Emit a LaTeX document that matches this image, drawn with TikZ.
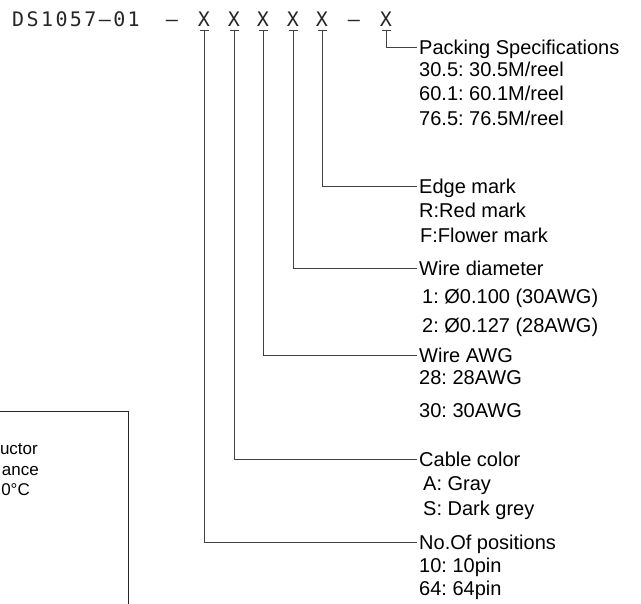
\documentclass[tikz,border=0pt]{standalone}
\usepackage{fontspec}
\newfontfamily\labfont{Liberation Sans}
\newfontfamily\hdrfont{DejaVu Sans Mono}[LetterSpace=12]
\newfontfamily\hdrplain{DejaVu Sans Mono}
\frenchspacing
\begin{document}
\begin{tikzpicture}[x=1pt,y=-1pt,
  conn/.style={draw=black!75, line width=0.9pt},
  lbl/.style={font=\labfont\fontsize{20}{24}\selectfont, anchor=west, inner xsep=2pt, inner ysep=0pt, text height=14.3pt, text depth=0pt},
  hdr/.style={font=\hdrplain\fontsize{20}{24}\selectfont, inner sep=0pt, anchor=base, text=black!85},
  boxtxt/.style={font=\labfont\fontsize{17}{20}\selectfont, anchor=east, inner sep=0pt, text height=12.2pt, text depth=0pt}]
\useasboundingbox (0,0) rectangle (641,604);
\clip (0,0) rectangle (641,604);

% header
\node[hdr, anchor=base west, font=\hdrfont\fontsize{20}{24}\selectfont] (code) at (12,27) {DS1057—01};
\node[hdr] (d1) at (172,27) {—};
\node[hdr] (x1) at (204,27) {X};
\node[hdr] (x2) at (234,27) {X};
\node[hdr] (x3) at (263,27) {X};
\node[hdr] (x4) at (293,27) {X};
\node[hdr] (x5) at (322,27) {X};
\node[hdr] (d2) at (354,27) {—};
\node[hdr] (x6) at (386,27) {X};

% bar points under each X
\foreach \i/\xx in {1/204,2/234,3/263,4/293,5/322,6/386}{
  \coordinate (b\i) at (\xx,30);
  \draw[conn] ([xshift=-4.5pt]b\i) -- ([xshift=4.5pt]b\i);
}

% labels
\node[lbl] (p0) at (417,47) {Packing Specifications};
\node[lbl] (p1) at (417,69) {30.5: 30.5M/reel};
\node[lbl] (p2) at (417,93) {60.1: 60.1M/reel};
\node[lbl] (p3) at (417,118) {76.5: 76.5M/reel};

\node[lbl] (e0) at (417,186) {Edge mark};
\node[lbl] (e1) at (417,210) {R:Red mark};
\node[lbl] (e2) at (418,235) {F:Flower mark};

\node[lbl] (w0) at (417,268) {Wire diameter};
\node[lbl] (w1) at (420,296) {1: Ø0.100 (30AWG)};
\node[lbl] (w2) at (420,325) {2: Ø0.127 (28AWG)};

\node[lbl] (a0) at (417,355) {Wire AWG};
\node[lbl] (a1) at (417,377) {28: 28AWG};
\node[lbl] (a2) at (417,410) {30: 30AWG};

\node[lbl] (c0) at (417,459) {Cable color};
\node[lbl] (c1) at (421,483) {A: Gray};
\node[lbl] (c2) at (421,508) {S: Dark grey};

\node[lbl] (n0) at (417,542) {No.Of positions};
\node[lbl] (n1) at (417,565) {10: 10pin};
\node[lbl] (n2) at (417,588) {64: 64pin};

% connectors
\draw[conn] (b1) |- (n0.west);
\draw[conn] (b2) |- (c0.west);
\draw[conn] (b3) |- (a0.west);
\draw[conn] (b4) |- (w0.west);
\draw[conn] (b5) |- (e0.west);
\draw[conn] (b6) |- (p0.west);

% partial box at left
\draw[draw=black!85, line width=0.8pt] (-10,411) -- (128,411) -- (128,620);
\node[boxtxt] (t1) at (38,448) {uctor};
\node[boxtxt] (t2) at (39,469) {ance};
\node[boxtxt] (t3) at (30,489) {0°C};
\end{tikzpicture}
\end{document}
